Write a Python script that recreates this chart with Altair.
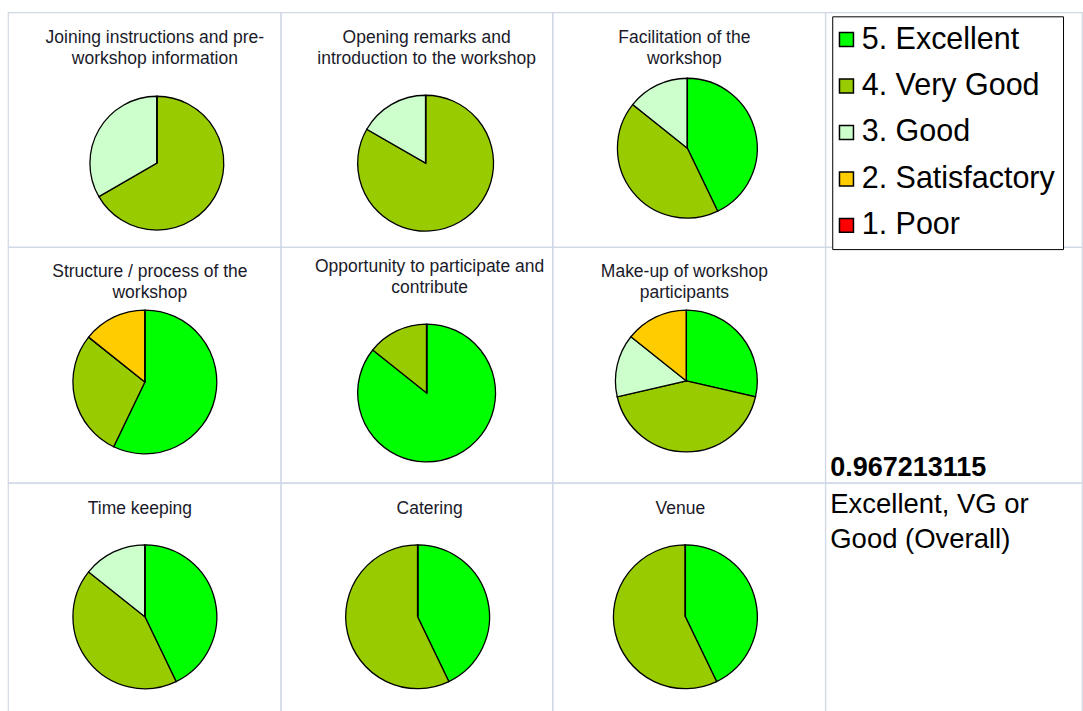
import altair as alt
import pandas as pd

# ---------------- data ----------------
ratings = ["5. Excellent", "4. Very Good", "3. Good", "2. Satisfactory", "1. Poor"]
rating_colors = ["#00ff00", "#99cc00", "#ccffcc", "#ffcc00", "#ff0000"]

questions = [
    "Joining instructions and pre-workshop information",
    "Opening remarks and introduction to the workshop",
    "Facilitation of the workshop",
    "Structure / process of the workshop",
    "Opportunity to participate and contribute",
    "Make-up of workshop participants",
    "Time keeping",
    "Catering",
    "Venue",
]
title_lines = [
    ["Joining instructions and pre-", "workshop information"],
    ["Opening remarks and", "introduction to the workshop"],
    ["Facilitation of the", "workshop"],
    ["Structure / process of the", "workshop"],
    ["Opportunity to participate and", "contribute"],
    ["Make-up of workshop", "participants"],
    ["Time keeping"],
    ["Catering"],
    ["Venue"],
]
excellent = [0, 0, 3, 4, 6, 2, 3, 3, 3]
very_good = [4, 5, 3, 2, 1, 3, 3, 4, 4]
good = [2, 1, 1, 0, 0, 1, 1, 0, 0]
satisfactory = [0, 0, 0, 1, 0, 1, 0, 0, 0]
poor = [0, 0, 0, 0, 0, 0, 0, 0, 0]
overall_label = ["Excellent, VG or", "Good (Overall)"]

series = [excellent, very_good, good, satisfactory, poor]
rows = []
for qi, q in enumerate(questions):
    for ri, r in enumerate(ratings):
        rows.append({"question": q, "rating": r, "rank": ri, "count": series[ri][qi]})
df = pd.DataFrame(rows)

total = sum(sum(s) for s in series)
positive = sum(excellent) + sum(very_good) + sum(good)
overall_value = f"{positive / total:.9f}"

# ---------------- layout (not data) ----------------
col_widths = [273, 272, 273, 257]
row_heights = [235, 236, 232]
# pie centre x, centre y, radius, title centre x, title first baseline (relative to cell)
pie_layout = [
    (149, 151, 67, 147, 31),
    (145, 151, 68, 146, 31),
    (135, 136, 70, 132, 31),
    (137, 135, 72, 142, 30),
    (146, 146, 69, 149, 25),
    (134, 134, 71, 132, 30),
    (137, 134, 72, 132, 31),
    (137, 134, 72, 149, 31),
    (133, 134, 72, 128, 31),
]
FONT = "Liberation Sans"

legend = alt.Legend(
    title=None, orient="none", legendX=825, legendY=4,
    strokeColor="black", fillColor="white", padding=8,
    symbolType="square", symbolSize=196, symbolStrokeColor="black",
    symbolStrokeWidth=1.5, symbolOpacity=1, symbolOffset=-9,
    labelFont=FONT, labelFontSize=30.5, labelColor="black", labelOffset=0,
    rowPadding=15.5, labelLimit=400,
)
color = alt.Color("rating:N", scale=alt.Scale(domain=ratings, range=rating_colors),
                  legend=legend)


def pie_cell(i):
    q = questions[i]
    cx, cy, r, tx, ty = pie_layout[i]
    arc = alt.Chart(df).transform_filter(alt.datum.question == q).mark_arc(
        radius=r, stroke="black", strokeWidth=1.3
    ).encode(
        x=alt.value(cx), y=alt.value(cy),
        theta=alt.Theta("count:Q", stack="normalize"),
        color=color,
        order=alt.Order("rank:Q", sort="ascending"),
    )
    title = alt.Chart(alt.Data(values=[{"q": q}])).mark_text(
        text=title_lines[i], font=FONT, fontSize=17.5, lineHeight=20.5,
        color="#1a1a2a", align="center", baseline="alphabetic",
    ).encode(x=alt.value(tx), y=alt.value(ty))
    return alt.layer(arc, title).properties(width=col_widths[i % 3],
                                            height=row_heights[i // 3])


blank = alt.Chart(alt.Data(values=[{"v": 1}])).mark_point(opacity=0).encode(
    x=alt.value(100), y=alt.value(100)
).properties(width=col_widths[3], height=row_heights[0])

number_cell = alt.Chart(alt.Data(values=[{"v": overall_value}])).mark_text(
    font=FONT, fontSize=27, fontWeight="bold", color="black",
    align="left", baseline="alphabetic",
).encode(text="v:N", x=alt.value(5), y=alt.value(229)).properties(
    width=col_widths[3], height=row_heights[1])

label_cell = alt.Chart(alt.Data(values=[{"v": 1}])).mark_text(
    text=overall_label, font=FONT, fontSize=27.5, lineHeight=35, color="black",
    align="left", baseline="alphabetic",
).encode(x=alt.value(5), y=alt.value(30)).properties(
    width=col_widths[3], height=row_heights[2])

cells = [pie_cell(0), pie_cell(1), pie_cell(2), blank,
         pie_cell(3), pie_cell(4), pie_cell(5), number_cell,
         pie_cell(6), pie_cell(7), pie_cell(8), label_cell]

chart = alt.concat(*cells, columns=4, spacing=0, bounds="flush").properties(
    padding={"left": 7, "top": 11, "right": 0, "bottom": 0},
    background="white",
).configure_view(stroke="#d0d7e5", strokeWidth=1.2)

chart.save("out.html", embed_options={"renderer": "svg", "actions": False})
